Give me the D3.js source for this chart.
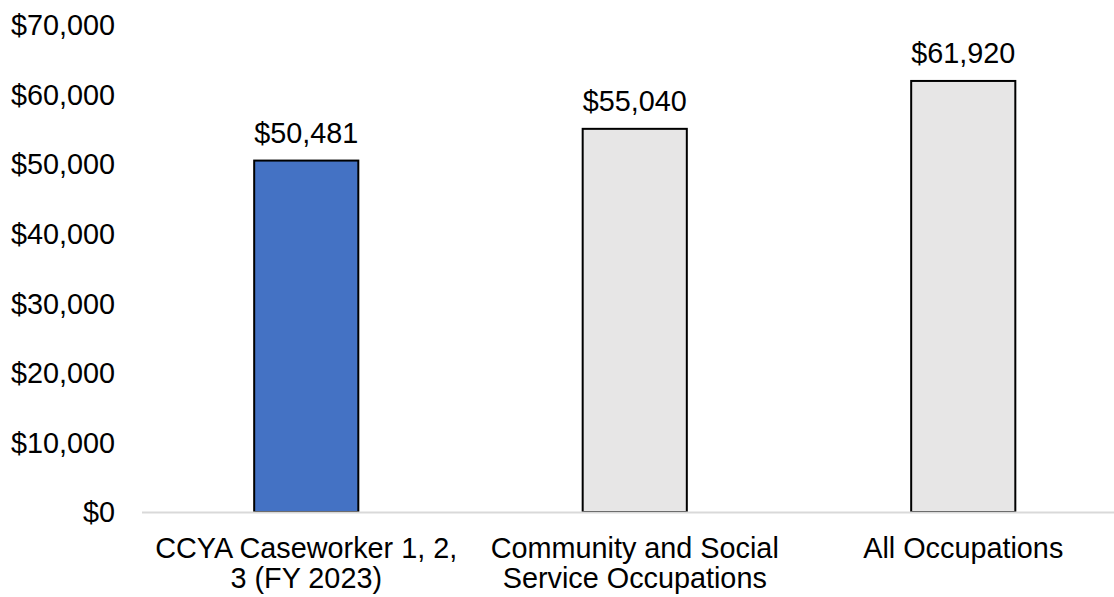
<!DOCTYPE html>
<html>
<head>
<meta charset="utf-8">
<script src="https://cdn.jsdelivr.net/npm/d3@7"></script>
<style>
  html, body { margin: 0; padding: 0; background: #fff; }
  svg { display: block; }
  text { font-family: "Liberation Sans", Arial, sans-serif; fill: #000; }
</style>
</head>
<body>
<svg id="chart" width="1114" height="597"></svg>
<script>
// Average annual salary by occupation group
const categories = [
  ["CCYA Caseworker 1, 2,", "3 (FY 2023)"],
  ["Community and Social", "Service Occupations"],
  ["All Occupations"]
];
const salaries = [50481, 55040, 61920];
const barColors = ["#4472C4", "#E7E6E6", "#E7E6E6"];
const yTicks = [0, 10000, 20000, 30000, 40000, 50000, 60000, 70000];

const W = 1114, H = 597;
const plot = { left: 142, right: 1127.5, top: 24.7, bottom: 512 };
const fontSize = 28.8;

const svg = d3.select("#chart");
const ids = d3.range(categories.length);

const x = d3.scaleBand()
  .domain(ids)
  .range([plot.left, plot.right])
  .paddingInner(0.683)
  .paddingOuter(0.3415);

const y = d3.scaleLinear()
  .domain([0, 70000])
  .range([plot.bottom, plot.top]);

const money = d3.format("$,");

// y tick labels (no gridlines)
svg.append("g")
  .selectAll("text")
  .data(yTicks)
  .join("text")
  .attr("x", 115)
  .attr("y", d => y(d))
  .attr("dy", "0.36em")
  .attr("text-anchor", "end")
  .style("font-size", fontSize + "px")
  .text(d => money(d));

// bars
svg.append("g")
  .selectAll("rect")
  .data(ids)
  .join("rect")
  .attr("x", i => x(i))
  .attr("y", i => y(salaries[i]))
  .attr("width", x.bandwidth())
  .attr("height", i => y(0) - y(salaries[i]))
  .attr("fill", i => barColors[i])
  .attr("stroke", "#000")
  .attr("stroke-width", 2);

// baseline
svg.append("line")
  .attr("x1", plot.left)
  .attr("x2", plot.right)
  .attr("y1", y(0) + 0.5)
  .attr("y2", y(0) + 0.5)
  .attr("stroke", "#D9D9D9")
  .attr("stroke-width", 2);

// value labels
svg.append("g")
  .selectAll("text")
  .data(ids)
  .join("text")
  .attr("x", i => x(i) + x.bandwidth() / 2)
  .attr("y", i => y(salaries[i]) - 18)
  .attr("text-anchor", "middle")
  .style("font-size", fontSize + "px")
  .text(i => money(salaries[i]));

// category labels
const cat = svg.append("g")
  .selectAll("text")
  .data(ids)
  .join("text")
  .attr("x", i => x(i) + x.bandwidth() / 2)
  .attr("y", 557.5)
  .attr("text-anchor", "middle")
  .style("font-size", fontSize + "px");

cat.selectAll("tspan")
  .data(i => categories[i].map(line => ({ i, line })))
  .join("tspan")
  .attr("x", d => x(d.i) + x.bandwidth() / 2)
  .attr("dy", (d, k) => k === 0 ? 0 : 30.7)
  .text(d => d.line);
</script>
</body>
</html>
